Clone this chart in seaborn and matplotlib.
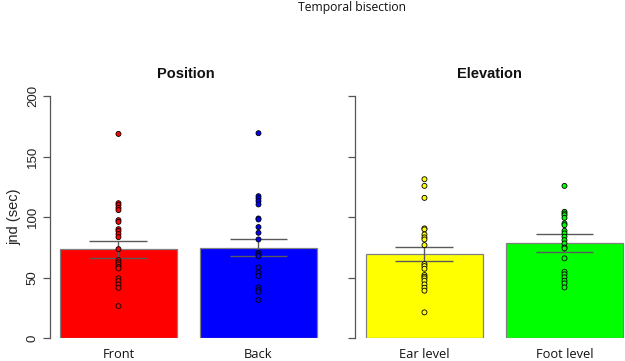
import matplotlib
matplotlib.use("Agg")
import matplotlib.pyplot as plt
import seaborn as sns
import pandas as pd
import numpy as np

sns.set_style("white")
plt.rcParams['font.family'] = ['Liberation Sans', 'DejaVu Sans']

# ---------------- data ----------------
position_labels = ["Front", "Back"]
elevation_labels = ["Ear level", "Foot level"]
position_colors = ["#ff0000", "#0000ff"]
elevation_colors = ["#ffff00", "#00ff00"]

position_means = [73.6, 74.7]
position_err_low = [66.5, 67.6]
position_err_high = [80.0, 81.6]
elevation_means = [69.5, 78.3]
elevation_err_low = [63.7, 70.9]
elevation_err_high = [75.5, 86.2]

front_points = [168.7, 111.5, 109.9, 107.7, 105.8, 97.5, 96.1, 90.1, 88.5, 86.0,
                83.5, 73.6, 64.5, 62.6, 61.0, 59.0, 57.7, 49.5, 47.2, 44.5, 41.7, 26.6]
back_points = [169.3, 117.3, 115.4, 113.2, 110.5, 98.9, 98.1, 91.8, 87.1, 81.6,
               70.6, 69.2, 67.8, 58.5, 54.1, 51.4, 42.0, 39.8, 38.4, 31.6]
ear_points = [131.3, 125.8, 115.9, 90.7, 89.9, 85.7, 83.3, 81.6, 76.9, 61.3,
              59.6, 57.4, 52.2, 50.8, 49.5, 47.5, 44.5, 41.7, 39.3, 21.4]
foot_points = [125.8, 104.4, 103.0, 101.6, 99.4, 94.8, 93.4, 88.7, 86.6, 83.8,
               81.0, 78.3, 75.0, 74.2, 66.0, 54.9, 52.8, 50.3, 47.5, 45.3, 42.0]

y_ticks = [0, 50, 100, 150, 200]

# ---------------- figure ----------------
W, H = 625, 361
fig = plt.figure(figsize=(W / 100, H / 100), dpi=100)

def px_axes(x0, x1, y_top, y_bot):
    return fig.add_axes([x0 / W, 1 - y_bot / H, (x1 - x0) / W, (y_bot - y_top) / H])

ax1 = px_axes(50, 321.5, 96, 338.3)
ax2 = px_axes(355, 624.7, 96, 338.3)

err_col = "#5a5a5a"

def panel(ax, labels, colors, means, lo, hi, pts_a, pts_b, title, xmin, xmax, show_labels):
    sns.barplot(x=labels, y=means, hue=labels, palette=colors, order=labels,
                hue_order=labels, width=0.836, edgecolor="#808080", linewidth=0.9,
                saturation=1, errorbar=None, legend=False, ax=ax, zorder=1)
    xs = np.arange(len(labels))
    ax.vlines(xs, lo, hi, color=err_col, linewidth=1.0, zorder=2)
    ax.hlines(lo, xs - 0.207, xs + 0.207, color=err_col, linewidth=1.0, zorder=2)
    ax.hlines(hi, xs - 0.207, xs + 0.207, color=err_col, linewidth=1.0, zorder=2)
    df = pd.DataFrame({
        "cond": [labels[0]] * len(pts_a) + [labels[1]] * len(pts_b),
        "val": list(pts_a) + list(pts_b),
    })
    sns.stripplot(data=df, x="cond", y="val", hue="cond", order=labels,
                  hue_order=labels, palette=colors, jitter=False, size=3.6,
                  edgecolor="black", linewidth=0.6, legend=False, ax=ax, zorder=3)
    ax.set_xlim(xmin, xmax)
    ax.set_ylim(0, 200)
    ax.set_yticks(y_ticks)
    for s in ["top", "right", "bottom"]:
        ax.spines[s].set_visible(False)
    ax.spines["left"].set_color("#555555")
    ax.spines["left"].set_linewidth(0.9)
    ax.spines["left"].set_bounds(0, 200)
    ax.tick_params(axis="y", left=True, length=5, width=0.9, color="#555555",
                   pad=3, labelsize=9.5, labelcolor="#222222")
    ax.tick_params(axis="x", length=0, pad=7)
    for t in ax.get_xticklabels():
        t.set_fontfamily(["Open Sans", "DejaVu Sans"])
        t.set_fontsize(9.3)
        t.set_color("#111111")
    if show_labels:
        for t in ax.get_yticklabels():
            t.set_rotation(90)
            t.set_va("center")
    else:
        ax.set_yticklabels([])
    ax.set_xlabel("")
    ax.set_ylabel("")
    ax.set_title(title, fontsize=10.5, fontweight="bold", pad=13, color="#111111")

panel(ax1, position_labels, position_colors, position_means, position_err_low,
      position_err_high, front_points, back_points, "Position", -0.489, 1.45, True)
panel(ax2, elevation_labels, elevation_colors, elevation_means, elevation_err_low,
      elevation_err_high, ear_points, foot_points, "Elevation", -0.496, 1.43, False)

ax1.set_ylabel("jnd (sec)", fontsize=10.5, color="#222222", labelpad=4)

fig.text(352 / W, 1 - 8 / H, "Temporal bisection", ha="center", va="center",
         fontsize=8.7, family=["Open Sans", "DejaVu Sans"], color="#111111")

fig.savefig("out.png", dpi=100)
